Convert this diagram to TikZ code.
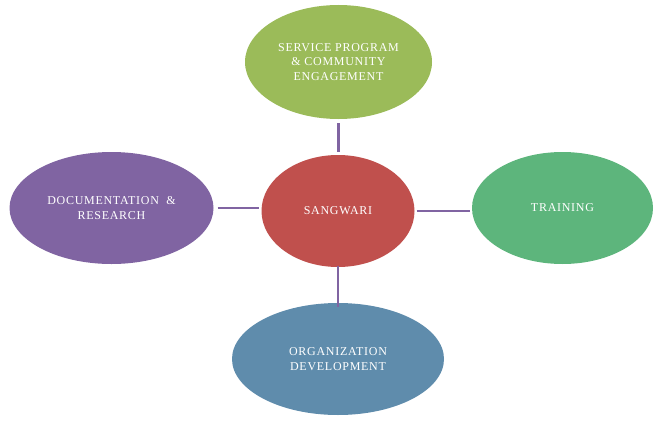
\documentclass[tikz,border=0pt]{standalone}
\usepackage{fontspec}
\setmainfont{Liberation Serif}[LetterSpace=6]
\usetikzlibrary{shapes.geometric}
\definecolor{cgreen}{HTML}{9BBB59}
\definecolor{cred}{HTML}{C0504D}
\definecolor{cpurple}{HTML}{8064A2}
\definecolor{cteal}{HTML}{5DB57C}
\definecolor{cblue}{HTML}{5F8CAC}
\definecolor{cline}{HTML}{8064A2}
\tikzset{
  bubble/.style={ellipse, inner sep=0pt, outer sep=0pt, text=white, align=center,
    font=\fontsize{12}{14.5}\selectfont},
  link/.style={draw=cline, line width=2.5pt}
}
\begin{document}
\begin{tikzpicture}[x=1pt,y=-1pt]
\useasboundingbox (0,0) rectangle (663,420);
\node[bubble, fill=cgreen, minimum width=187pt, minimum height=114pt] (top) at (338.5,62) {SERVICE PROGRAM\\\& COMMUNITY\\ENGAGEMENT};
\node[bubble, fill=cred, minimum width=153pt, minimum height=112pt] (mid) at (338,211) {SANGWARI};
\node[bubble, fill=cpurple, minimum width=204pt, minimum height=112pt] (left) at (111.5,208) {DOCUMENTATION \ \&\\RESEARCH};
\node[bubble, fill=cteal, minimum width=181pt, minimum height=112pt] (right) at (562.5,208) {TRAINING};
\node[bubble, fill=cblue, minimum width=212pt, minimum height=112pt] (bot) at (338,359) {ORGANIZATION\\DEVELOPMENT};
\draw[link] ([yshift=-4pt]top.south) -- ([yshift=3pt]top.south |- mid.north);
\draw[link] ([xshift=4pt]left.east) -- ([xshift=-3pt]mid.west |- left.east);
\draw[link] ([xshift=2pt]mid.east) -- ([xshift=-2pt]right.west |- mid.east);
\draw[link] ([yshift=1pt]mid.south) -- ([yshift=-4pt]mid.south |- bot.north);
\end{tikzpicture}
\end{document}
